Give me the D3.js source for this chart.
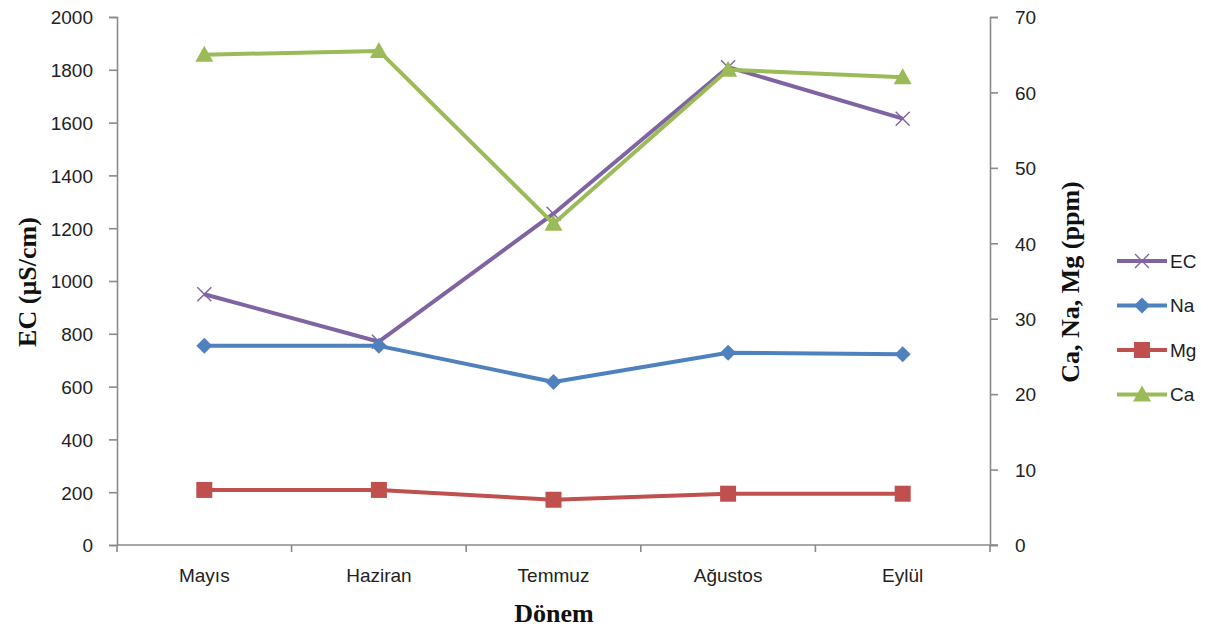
<!DOCTYPE html>
<html>
<head>
<meta charset="utf-8">
<script src="https://cdn.jsdelivr.net/npm/d3@7"></script>
<style>
  body { margin: 0; background: #fff; }
  .tick text { font-family: "Liberation Sans", Arial, sans-serif; font-size: 19px; fill: #222; }
  .title { font-family: "Liberation Serif", "Times New Roman", serif; font-weight: bold; font-size: 26px; fill: #111; }
  .leg { font-family: "Liberation Sans", Arial, sans-serif; font-size: 19px; fill: #222; }
</style>
</head>
<body>
<svg id="chart" width="1211" height="630"></svg>
<script>
// veriler
var months = ["Mayıs", "Haziran", "Temmuz", "Ağustos", "Eylül"];
var ecVals = [950, 770, 1255, 1810, 1615];
var naVals = [26.4, 26.4, 21.6, 25.5, 25.3];
var mgVals = [7.3, 7.3, 6.0, 6.8, 6.8];
var caVals = [65.0, 65.5, 42.6, 63.0, 62.0];
var leftTicks = [0, 200, 400, 600, 800, 1000, 1200, 1400, 1600, 1800, 2000];
var rightTicks = [0, 10, 20, 30, 40, 50, 60, 70];

var svg = d3.select("#chart"),
    plotL = 117, plotR = 990, plotT = 17, plotB = 545,
    axisColor = "#8a8a8a";

var x = d3.scaleBand().domain(months).range([plotL, plotR]).paddingInner(0).paddingOuter(0);
var yL = d3.scaleLinear().domain([0, 2000]).range([plotB, plotT]);
var yR = d3.scaleLinear().domain([0, 70]).range([plotB, plotT]);

function cx(d, i) { return x(months[i]) + x.bandwidth() / 2; }

// sol eksen
var gL = svg.append("g").attr("transform", "translate(" + plotL + ",0)")
    .call(d3.axisLeft(yL).tickValues(leftTicks).tickFormat(d3.format("d")).tickSize(8).tickPadding(16));
// sag eksen
var gR = svg.append("g").attr("transform", "translate(" + plotR + ",0)")
    .call(d3.axisRight(yR).tickValues(rightTicks).tickFormat(d3.format("d")).tickSize(8).tickPadding(17));
// alt eksen
var gB = svg.append("g").attr("transform", "translate(0," + plotB + ")")
    .call(d3.axisBottom(x).tickSize(0).tickPadding(24));
gB.select(".domain").remove();
svg.append("line").attr("x1", plotL).attr("x2", plotR + 8).attr("y1", plotB).attr("y2", plotB)
    .attr("stroke", axisColor).attr("stroke-width", 1.6);
svg.selectAll(".bt").data(months.concat(["end"])).enter().append("line")
    .attr("class", "bt")
    .attr("x1", function (d, i) { return plotL + i * x.bandwidth(); })
    .attr("x2", function (d, i) { return plotL + i * x.bandwidth(); })
    .attr("y1", plotB).attr("y2", plotB + 7)
    .attr("stroke", axisColor).attr("stroke-width", 1.6);

[gL, gR].forEach(function (g) {
    g.select(".domain").attr("stroke", axisColor).attr("stroke-width", 1.6);
    g.selectAll(".tick line").attr("stroke", axisColor).attr("stroke-width", 1.6);
    g.selectAll(".tick text").attr("dy", "0.36em");
});
gB.selectAll(".tick text").attr("dy", "0.71em");

// seriler
var series = [
    {name: "EC", vals: ecVals, y: yL, color: "#8064A2", marker: "x"},
    {name: "Na", vals: naVals, y: yR, color: "#4F81BD", marker: "diamond"},
    {name: "Mg", vals: mgVals, y: yR, color: "#C0504D", marker: "square"},
    {name: "Ca", vals: caVals, y: yR, color: "#9BBB59", marker: "triangle"}
];

function drawMarker(g, type, color) {
    if (type === "x") {
        g.append("path").attr("d", "M-7,-7L7,7M-7,7L7,-7")
            .attr("stroke", color).attr("stroke-width", 1.4).attr("fill", "none");
    } else if (type === "diamond") {
        g.append("path").attr("d", "M0,-8L8,0L0,8L-8,0Z").attr("fill", color);
    } else if (type === "square") {
        g.append("rect").attr("x", -8).attr("y", -8).attr("width", 16).attr("height", 16).attr("fill", color);
    } else {
        g.append("path").attr("d", "M0,-9L9,7L-9,7Z").attr("fill", color);
    }
}

series.forEach(function (s) {
    var line = d3.line().x(cx).y(function (d) { return s.y(d); });
    svg.append("path").datum(s.vals)
        .attr("d", line)
        .attr("fill", "none")
        .attr("stroke", s.color)
        .attr("stroke-width", 4)
        .attr("stroke-linejoin", "round");
    s.vals.forEach(function (v, i) {
        var g = svg.append("g").attr("transform", "translate(" + cx(v, i) + "," + s.y(v) + ")");
        drawMarker(g, s.marker, s.color);
    });
});

// eksen basliklari
svg.append("text").attr("class", "title")
    .attr("transform", "translate(36,282) rotate(-90)")
    .attr("text-anchor", "middle").text("EC (µS/cm)");
svg.append("text").attr("class", "title")
    .attr("transform", "translate(1079,282) rotate(-90)")
    .attr("text-anchor", "middle").text("Ca, Na, Mg (ppm)");
svg.append("text").attr("class", "title")
    .attr("x", 554).attr("y", 622)
    .attr("text-anchor", "middle").text("Dönem");

// lejant
var leg = svg.selectAll(".legitem").data(series).enter().append("g")
    .attr("class", "legitem")
    .attr("transform", function (d, i) { return "translate(1117," + (261 + i * 44.5) + ")"; });
leg.append("line").attr("x1", 0).attr("x2", 50).attr("y1", 0).attr("y2", 0)
    .attr("stroke", function (d) { return d.color; }).attr("stroke-width", 4);
leg.each(function (d) {
    var m = d3.select(this).append("g").attr("transform", "translate(25,0)");
    drawMarker(m, d.marker, d.color);
});
leg.append("text").attr("class", "leg").attr("x", 53).attr("y", 0).attr("dy", "0.36em")
    .text(function (d) { return d.name; });
</script>
</body>
</html>
